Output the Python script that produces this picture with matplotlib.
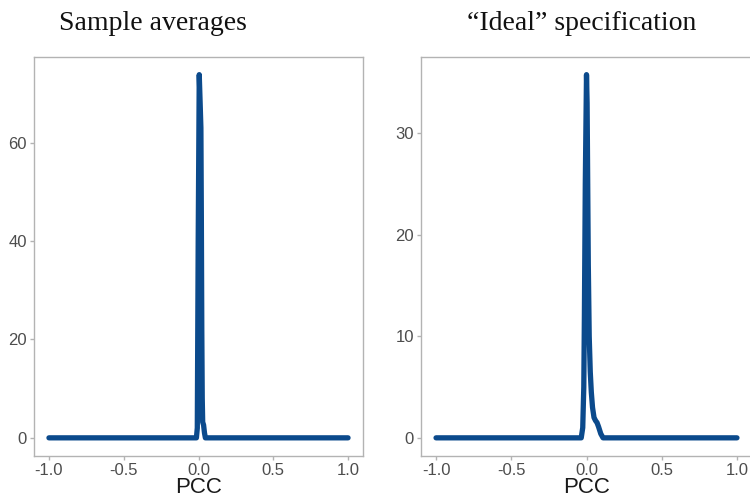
import matplotlib
matplotlib.use("Agg")
import matplotlib.pyplot as plt
import numpy as np

# Panel titles
titles = ["Sample averages", "\u201cIdeal\u201d specification"]
x_label = "PCC"

# Density curve of sample averages (PCC, density)
left_x = [-1.0, -0.014, -0.008, -0.002, 0.005, 0.011, 0.016, 0.019, 0.022, 0.025, 0.028, 0.034, 0.040, 0.046, 1.0]
left_y = [0.0, 0.0, 2.0, 40.0, 73.8, 68.0, 63.0, 45.0, 22.0, 8.0, 3.2, 2.6, 1.0, 0.0, 0.0]

# Density curve of "ideal" specification
right_x = [-1.0, -0.035, -0.025, -0.018, -0.014, -0.008, 0.0, 0.004, 0.008, 0.012, 0.018, 0.025, 0.032,
           0.04, 0.05, 0.06, 0.07, 0.08, 0.095, 0.11, 1.0]
right_y = [0.0, 0.0, 1.0, 5.0, 12.0, 25.0, 35.8, 33.0, 25.0, 17.0, 10.0, 6.5, 4.5,
           3.0, 2.0, 1.7, 1.5, 1.1, 0.4, 0.0, 0.0]

x_ticks = [-1.0, -0.5, 0.0, 0.5, 1.0]
left_yticks = [0, 20, 40, 60]
right_yticks = [0, 10, 20, 30]

line_color = "#0B4A8C"
frame_color = "#B3B3B3"
tick_color = "#4D4D4D"
sans = ["Liberation Sans", "DejaVu Sans"]

fig = plt.figure(figsize=(7.5, 5), dpi=100)
ax1 = fig.add_axes([34 / 750, 1 - 456 / 500, 329 / 750, (456 - 56.5) / 500])
ax2 = fig.add_axes([421 / 750, 1 - 456 / 500, 331 / 750, (456 - 56.5) / 500])

panels = [
    (ax1, left_x, left_y, left_yticks, titles[0], 153),
    (ax2, right_x, right_y, right_yticks, titles[1], 582),
]

for ax, xs, ys, yt, title, tx in panels:
    ax.plot(xs, ys, color=line_color, lw=3.8, solid_capstyle="round", solid_joinstyle="round")
    ymax = max(ys)
    ax.set_xlim(-1.1, 1.1)
    ax.set_ylim(-0.05 * ymax, 1.05 * ymax)
    ax.set_xticks(x_ticks)
    ax.set_xticklabels([f"{v:.1f}" for v in x_ticks], family=sans)
    ax.set_yticks(yt)
    ax.set_yticklabels([str(v) for v in yt], family=sans)
    for s in ax.spines.values():
        s.set_color(frame_color)
        s.set_linewidth(1.0)
    ax.tick_params(axis="both", colors=frame_color, length=3, width=1.0,
                   labelcolor=tick_color, labelsize=12, pad=2)
    ax.set_xlabel(x_label, fontsize=16, color="#1A1A1A", labelpad=-1, family=sans)
    fig.text(tx / 750, 1 - 23 / 500, title, ha="center", va="center",
             fontsize=20, family="Liberation Serif", color="#111111")

fig.savefig("out.png", dpi=100)
